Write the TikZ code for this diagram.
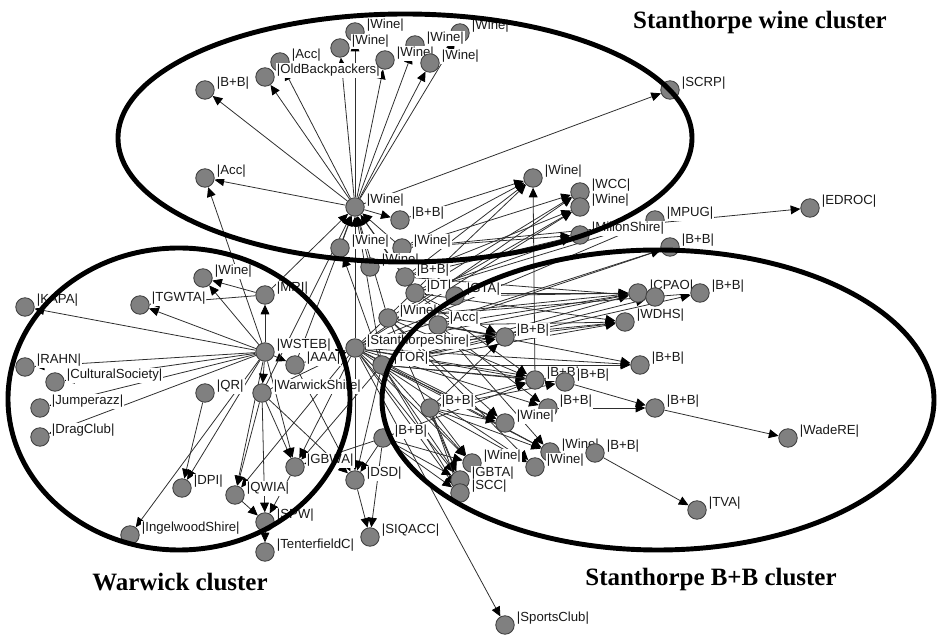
\documentclass[tikz,border=0pt]{standalone}
\usepackage{fontspec}
\usepackage{tikz}
\usetikzlibrary{arrows.meta}
\newfontfamily\labfont{Liberation Sans}
\newfontfamily\headfont{Liberation Serif}
\pgfdeclarelayer{edges}
\pgfsetlayers{edges,main}
\tikzset{
    actor/.style={circle, draw=black!75, fill=black!50, minimum size=0.37cm, inner sep=0pt, line width=0.5pt},
    lab/.style={font=\labfont\fontsize{7.5}{8}\selectfont, text=black!90, fill=white, inner sep=0.6pt, yshift=0.13cm},
    tie/.style={draw=black!82, line width=0.45pt, -{Triangle[length=5.5pt,width=5pt,color=black]}},
    cluster/.style={draw=black, line width=2.8pt},
    heading/.style={font=\headfont\bfseries\fontsize{14.2}{16}\selectfont}
}

\begin{document}
\begin{tikzpicture}[x=0.02cm, y=-0.02cm, label distance=0.5pt]
    \useasboundingbox (0,0) rectangle (938,638);

    % wine cluster
    \node[actor, label={[lab]east:|Wine|}] (wHub) at (355,207) {};
    \node[actor, label={[lab]east:|B+B|}] (bbTop) at (400,220) {};
    \node[actor, label={[lab]east:|Wine|}] (wTa) at (355,32) {};
    \node[actor, label={[lab]east:|Wine|}] (wTb) at (340,48) {};
    \node[actor, label={[lab]east:|Wine|}] (wTf) at (460,33) {};
    \node[actor, label={[lab]east:|Wine|}] (wTd) at (415,45) {};
    \node[actor, label={[lab]east:|Acc|}] (accT) at (280,62) {};
    \node[actor, label={[lab]east:|OldBackpackers|}] (oldBp) at (265,77) {};
    \node[actor, label={[lab]east:|Wine|}] (wTc) at (385,60) {};
    \node[actor, label={[lab]east:|Wine|}] (wTe) at (430,63) {};
    \node[actor, label={[lab]east:|B+B|}] (bbT) at (205,90) {};
    \node[actor, label={[lab]east:|SCRP|}] (scrp) at (670,90) {};
    \node[actor, label={[lab]east:|Acc|}] (accL) at (205,178) {};

    \node[actor, label={[lab]east:|Wine|}] (wR1) at (533,178) {};
    \node[actor, label={[lab]east:|WCC|}] (wcc) at (580,192) {};
    \node[actor, label={[lab]east:|Wine|}] (wR2) at (580,207) {};
    \node[actor, label={[lab]east:|MPUG|}] (mpug) at (655,220) {};
    \node[actor, label={[lab]east:|MillonShire|}] (shireR) at (580,235) {};
    \node[actor, label={[lab]east:|EDROC|}] (edroc) at (810,208) {};

    % centre
    \node[actor, label={[lab]east:|Wine|}] (wM1) at (340,248) {};
    \node[actor, label={[lab]east:|Wine|}] (wM2) at (402,248) {};
    \node[actor, label={[lab]east:|Wine|}] (wM3) at (370,267) {};
    \node[actor, label={[lab]east:|B+B|}] (bbM1) at (405,277) {};
    \node[actor, label={[lab]east:|DT|}] (dt) at (415,293) {};
    \node[actor, label={[lab]east:|GTA|}] (gta) at (455,296) {};
    \node[actor, label={[lab]east:|Wine|}] (wM4) at (388,318) {};
    \node[actor, label={[lab]east:|Acc|}] (accM) at (438,325) {};
    \node[actor, label={[lab]east:|StanthorpeShire|}] (stShire) at (355,348) {};
    \node[actor, label={[lab]east:|TOR|}] (tor) at (382,365) {};
    \node[actor, label={[lab]east:|B+B|}] (bbM2) at (430,408) {};
    \node[actor, label={[lab]east:|B+B|}] (bbM3) at (383,438) {};

    % B+B cluster
    \node[actor, label={[lab]east:|B+B|}] (bbR1) at (670,247) {};
    \node[actor, label={[lab]east:|CPAO|}] (cpao) at (638,293) {};
    \node[actor] (cpao2) at (655,297) {};
    \node[actor, label={[lab]east:|B+B|}] (bbR2) at (700,293) {};
    \node[actor, label={[lab]east:|WDHS|}] (wdhs) at (625,322) {};
    \node[actor, label={[lab]east:|B+B|}] (bbC1) at (505,337) {};
    \node[actor, label={[lab]east:|B+B|}] (bbR3) at (640,365) {};
    \node[actor, label={[lab]east:|B+B|}] (bbC2) at (535,380) {};
    \node[actor, label={[lab]east:|B+B|}] (bbC3) at (565,382) {};
    \node[actor, label={[lab]east:|B+B|}] (bbC4) at (548,408) {};
    \node[actor, label={[lab]east:|B+B|}] (bbR4) at (655,408) {};
    \node[actor, label={[lab]east:|WadeRE|}] (wadeRE) at (788,438) {};
    \node[actor, label={[lab]east:|Wine|}] (wC1) at (505,423) {};
    \node[actor, label={[lab]east:|Wine|}] (wC2) at (550,452) {};
    \node[actor, label={[lab]east:|B+B|}] (bbR5) at (595,453) {};
    \node[actor, label={[lab]east:|Wine|}] (wC3) at (535,467) {};
    \node[actor, label={[lab]east:|Wine|}] (wC4) at (472,463) {};
    \node[actor, label={[lab]east:|GBTA|}] (gbta) at (460,480) {};
    \node[actor, label={[lab]east:|SCC|}] (scc) at (460,493) {};
    \node[actor, label={[lab]east:|TVA|}] (tva) at (697,510) {};
    \node[actor, label={[lab]east:|SportsClub|}] (sports) at (505,625) {};

    % warwick cluster
    \node[actor, label={[lab]east:|MRI|}] (mri) at (265,295) {};
    \node[actor, label={[lab]east:|Wine|}] (wL) at (203,278) {};
    \node[actor, label={[lab]east:|TGWTA|}] (tgwta) at (140,305) {};
    \node[actor, label={[lab]east:|KAPA|}] (kapa) at (25,307) {};
    \node[actor, label={[lab]east:|WSTEB|}] (wsteb) at (265,352) {};
    \node[actor, label={[lab]east:|AAA|}] (aaa) at (295,365) {};
    \node[actor, label={[lab]east:|RAHN|}] (rahn) at (25,367) {};
    \node[actor, label={[lab]east:|CulturalSociety|}] (cult) at (55,382) {};
    \node[actor, label={[lab]east:|QR|}] (qr) at (205,393) {};
    \node[actor, label={[lab]east:|WarwickShire|}] (warShire) at (262,393) {};
    \node[actor, label={[lab]east:|Jumperazz|}] (jump) at (40,408) {};
    \node[actor, label={[lab]east:|DragClub|}] (drag) at (40,437) {};
    \node[actor, label={[lab]east:|GBWA|}] (gbwa) at (295,467) {};
    \node[actor, label={[lab]east:|DSD|}] (dsd) at (355,480) {};
    \node[actor, label={[lab]east:|DPI|}] (dpi) at (182,488) {};
    \node[actor, label={[lab]east:|QWIA|}] (qwia) at (235,495) {};
    \node[actor, label={[lab]east:|SPW|}] (spw) at (265,522) {};
    \node[actor, label={[lab]east:|IngelwoodShire|}] (ingel) at (130,535) {};
    \node[actor, label={[lab]east:|SIQACC|}] (siqacc) at (370,537) {};
    \node[actor, label={[lab]east:|TenterfieldC|}] (tent) at (265,552) {};

    \begin{pgfonlayer}{edges}
    \foreach \t in {bbT,oldBp,accT,wTb,wTa,wTc,wTd,wTe,wTf,scrp,accL,bbTop}
        \draw[tie] (wHub) -- (\t);
    \foreach \t in {accL,kapa,tgwta,wL,mri,rahn,cult,jump,drag,ingel,dpi,qwia,gbwa,aaa,warShire}
        \draw[tie] (wsteb) -- (\t);
    \foreach \s in {mri,wM1,wM3,bbM1,stShire,tor,wM4,aaa,warShire,dt,wM2}
        \draw[tie] (\s) -- (wHub);
    \foreach \t in {cpao,wdhs,bbC1,bbR3,bbC2,bbC3,bbC4,wC1,wC2,wC3,wC4,gbta,scc,bbR1,mpug,wR2,wcc,wR1,gbwa,dsd,qwia,sports}
        \draw[tie] (stShire) -- (\t);
    \foreach \t in {cpao,cpao2,wdhs,bbC1,bbC2,bbC3,wC1,wC2,wC4,gbta,scc,bbR3,gbwa,dsd,wM1}
        \draw[tie] (tor) -- (\t);
    \foreach \t in {bbC1,bbC2,wC1,wC3,gbta,cpao,wR2,bbR2}
        \draw[tie] (wM4) -- (\t);
    \foreach \t in {cpao,wdhs,bbC1,bbC4,wC2,bbR3,bbR1}
        \draw[tie] (accM) -- (\t);
    \foreach \t in {mpug,shireR,wcc,cpao,wdhs,bbC1,bbC2}
        \draw[tie] (dt) -- (\t);
    \foreach \t in {shireR,wR2,wR1,cpao2}
        \draw[tie] (bbM1) -- (\t);
    \foreach \t in {wR1,edroc,wcc,shireR}
        \draw[tie] (wM2) -- (\t);
    \foreach \t in {bbC2,bbC3,wC1,wC2,wC3,gbta,scc,wC4,bbC1}
        \draw[tie] (bbM2) -- (\t);
    \foreach \t in {wC4,gbta,scc,bbC2,dsd,gbwa,siqacc}
        \draw[tie] (bbM3) -- (\t);
    \foreach \t in {stShire,gbwa,dsd,qwia,spw}
        \draw[tie] (warShire) -- (\t);
    \foreach \s/\t in {mri/wL,mri/tgwta,aaa/stShire,aaa/dsd,bbTop/wR1,gta/cpao,bbC1/wdhs,bbC1/bbR2,bbC2/wR1,bbC3/bbR4,bbC4/bbR4,bbR4/wadeRE,bbR5/tva,wC2/bbR5,dsd/siqacc,gbwa/spw,spw/tent,qwia/spw,qr/dpi}
        \draw[tie] (\s) -- (\t);
    \end{pgfonlayer}

    \draw[cluster] (405,138) ellipse [x radius=287, y radius=124];
    \draw[cluster] (179,399) ellipse [x radius=171, y radius=151];
    \draw[cluster] (658,400) ellipse [x radius=276, y radius=150];

    \node[heading] (hWine) at (760,23) {Stanthorpe wine cluster};
    \node[heading] (hWarwick) at (180,582) {Warwick cluster};
    \node[heading] (hBB) at (711,580) {Stanthorpe B+B cluster};
\end{tikzpicture}
\end{document}
